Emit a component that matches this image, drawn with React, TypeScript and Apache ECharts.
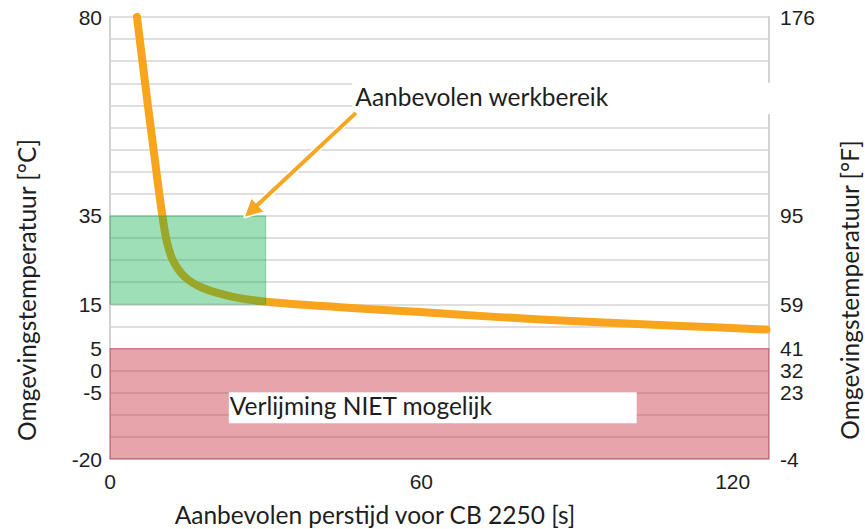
import React, { useEffect, useRef } from "react";
import * as echarts from "echarts";

// Curve: recommended press time (s) vs ambient temperature (°C)
const CURVE_X = [5.2, 6.25, 7.3, 8.4, 9.5, 10.1, 10.9, 12.1, 14.4, 17.9, 23.7, 30, 45, 59, 75, 91, 110, 126.5];
const CURVE_C = [80, 70, 60, 50, 40, 35, 29.5, 25, 21.2, 18.7, 16.7, 15.6, 14.3, 13.3, 12.1, 11.1, 10.1, 9.3];

const X_MIN = 0;
const X_MAX = 127;
const X_TICKS = [0, 60, 120];
const C_MIN = -20;
const C_MAX = 80;
const C_LABELS = [80, 35, 15, 5, 0, -5, -20];
const F_MIN = -4;
const F_MAX = 176;
const F_LABELS = [176, 95, 59, 41, 32, 23, -4];

// Zones [xFrom, xTo, cFrom, cTo]
const GREEN_ZONE = [0, 30, 15, 35];
const RED_ZONE = [0, X_MAX, -20, 5];

const TITLE_X = "Aanbevolen perstijd voor CB 2250 [s]";
const TITLE_C = "Omgevingstemperatuur [°C]";
const TITLE_F = "Omgevingstemperatuur [°F]";
const NOTE_GREEN = "Aanbevolen werkbereik";
const NOTE_RED = "Verlijming NIET mogelijk";

const LABEL_FONT = "'Liberation Sans', Arial, sans-serif";
const TEXT_FONT = "Lato, 'Open Sans', sans-serif";

export default function App() {
  const ref = useRef<HTMLDivElement>(null);

  useEffect(() => {
    if (!ref.current) return;
    const chart = echarts.init(ref.current, null, { renderer: "svg" });
    const axisLine = { show: true, lineStyle: { color: "#d2d2d2", width: 2 } };
    const labelStyle = { fontFamily: LABEL_FONT, fontSize: 21, color: "#1e1e1e" };

    chart.setOption({
      animation: false,
      grid: { left: 110, right: 96, top: 17, bottom: 70, containLabel: false, outerBoundsMode: "none" },
      xAxis: {
        type: "value",
        min: X_MIN,
        max: X_MAX,
        axisLine: { ...axisLine, onZero: false },
        axisTick: { show: false },
        splitLine: { show: false },
        axisLabel: { ...labelStyle, customValues: X_TICKS, margin: 12 },
      },
      yAxis: [
        {
          type: "value",
          min: C_MIN,
          max: C_MAX,
          interval: 5,
          axisLine,
          axisTick: { show: false },
          splitLine: { show: true, lineStyle: { color: "#d4d4d4", width: 1.6 } },
          axisLabel: {
            ...labelStyle,
            margin: 8,
            formatter: (v: number) => (C_LABELS.includes(v) ? String(v) : ""),
          },
        },
        {
          type: "value",
          position: "right",
          min: F_MIN,
          max: F_MAX,
          axisLine,
          axisTick: { show: false },
          splitLine: { show: false },
          axisLabel: { ...labelStyle, margin: 11, customValues: F_LABELS },
        },
      ],
      series: [
        {
          type: "line",
          z: 2,
          data: CURVE_X.map((x, i) => [x, CURVE_C[i]]),
          showSymbol: false,
          smooth: 0.35,
          lineStyle: { color: "#F8A51D", width: 8, cap: "round", join: "round" },
          silent: true,
        },
        {
          type: "line",
          data: [],
          silent: true,
          markArea: {
            z: 10,
            silent: true,
            data: [
              [
                {
                  xAxis: GREEN_ZONE[0],
                  yAxis: GREEN_ZONE[2],
                  itemStyle: { color: "rgba(0,171,66,0.38)", borderColor: "rgba(0,140,60,0.35)", borderWidth: 1 },
                },
                { xAxis: GREEN_ZONE[1], yAxis: GREEN_ZONE[3] },
              ],
              [
                {
                  xAxis: RED_ZONE[0],
                  yAxis: RED_ZONE[2],
                  itemStyle: { color: "rgba(196,28,42,0.4)", borderColor: "rgba(170,20,40,0.35)", borderWidth: 1 },
                },
                { xAxis: RED_ZONE[1], yAxis: RED_ZONE[3] },
              ],
            ],
          },
        },
      ],
    });

    const px = (x: number, c: number) => chart.convertToPixel({ gridIndex: 0 }, [x, c]) as number[];

    // annotation anchors in data coordinates
    const b1a = px(46.7, 65.1);
    const b1b = px(X_MAX, 58.0);
    const b2a = px(22.9, -4.9);
    const b2b = px(101.5, -11.9);
    const tail = px(47.4, 58.3);
    const tip = px(26.0, 34.8);

    const dx = tip[0] - tail[0];
    const dy = tip[1] - tail[1];
    const len = Math.hypot(dx, dy);
    const ux = dx / len;
    const uy = dy / len;
    const headLen = 17;
    const headW = 8.5;
    const bx = tip[0] - ux * headLen;
    const by = tip[1] - uy * headLen;
    const head = [
      [tip[0], tip[1]],
      [bx - uy * headW, by + ux * headW],
      [bx + uy * headW, by - ux * headW],
    ];
    const shaftEnd = [tip[0] - ux * (headLen - 2), tip[1] - uy * (headLen - 2)];

    const textStyle = { fontFamily: TEXT_FONT, fontSize: 24.5, fill: "#1e1e1e" };

    chart.setOption({
      graphic: [
        { type: "rect", z: 100, shape: { x: b1a[0], y: b1a[1], width: b1b[0] - b1a[0] + 5, height: b1b[1] - b1a[1] }, style: { fill: "#fff" } },
        { type: "text", z: 101, x: b1a[0] + 3, y: (b1a[1] + b1b[1]) / 2 - 2, style: { ...textStyle, text: NOTE_GREEN, verticalAlign: "middle" } },
        { type: "rect", z: 100, shape: { x: b2a[0], y: b2a[1], width: b2b[0] - b2a[0], height: b2b[1] - b2a[1] }, style: { fill: "#fff" } },
        { type: "text", z: 101, x: b2a[0] + 1, y: (b2a[1] + b2b[1]) / 2 - 2, style: { ...textStyle, text: NOTE_RED, verticalAlign: "middle" } },
        // arrow outline
        { type: "line", z: 100, shape: { x1: tail[0], y1: tail[1], x2: shaftEnd[0], y2: shaftEnd[1] }, style: { stroke: "#fff", lineWidth: 7 } },
        { type: "polygon", z: 100, shape: { points: head }, style: { fill: "#fff", stroke: "#fff", lineWidth: 3, lineJoin: "round" } },
        { type: "line", z: 101, shape: { x1: tail[0], y1: tail[1], x2: shaftEnd[0], y2: shaftEnd[1] }, style: { stroke: "#F5A623", lineWidth: 4 } },
        { type: "polygon", z: 101, shape: { points: head }, style: { fill: "#F5A623" } },
        // axis titles
        { type: "text", z: 50, x: 375, y: 514, style: { ...textStyle, text: TITLE_X, align: "center", verticalAlign: "middle" } },
        { type: "text", z: 50, x: 26, y: 290, rotation: Math.PI / 2, style: { ...textStyle, text: TITLE_C, align: "center", verticalAlign: "middle" } },
        { type: "text", z: 50, x: 849, y: 290, rotation: Math.PI / 2, style: { ...textStyle, text: TITLE_F, align: "center", verticalAlign: "middle" } },
      ],
    });

    return () => chart.dispose();
  }, []);

  return <div ref={ref} style={{ position: "absolute", left: 0, top: 0, width: 865, height: 529 }} />;
}
